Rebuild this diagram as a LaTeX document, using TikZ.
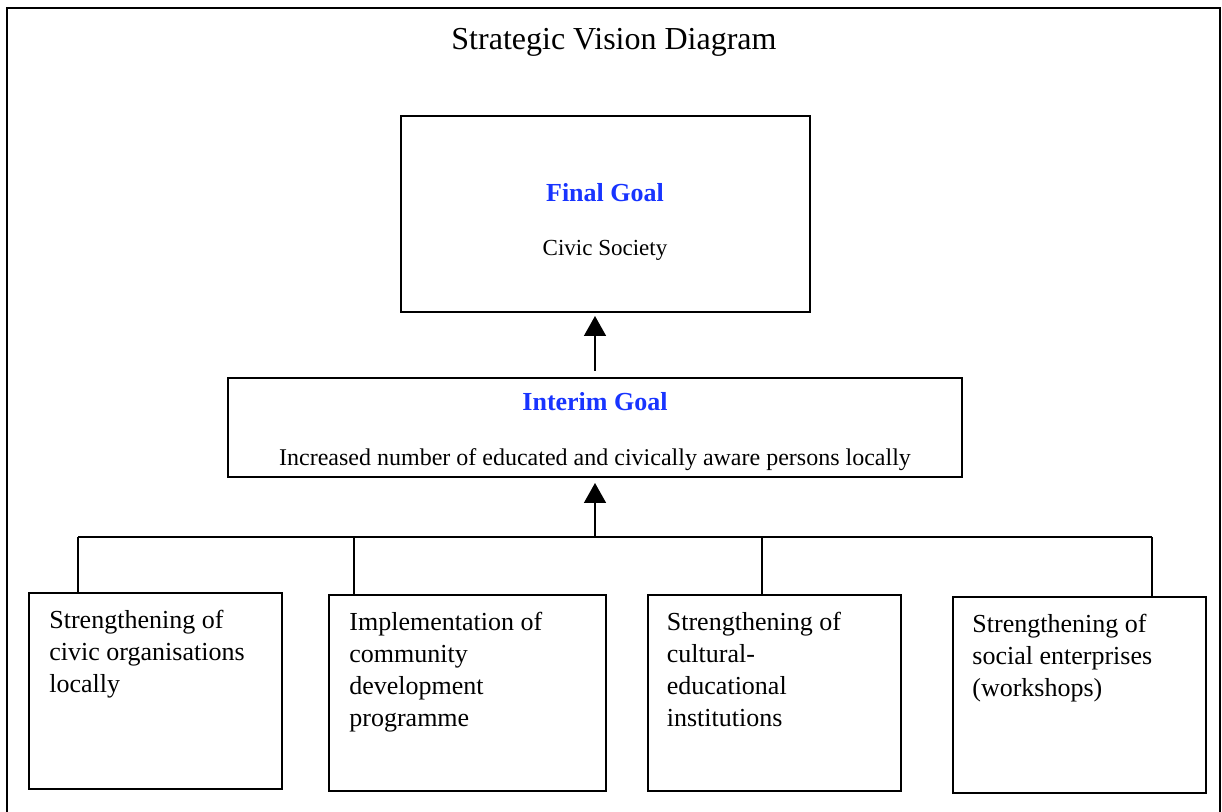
\documentclass[tikz,border=0pt]{standalone}
\usepackage{fontspec}
\setmainfont{Liberation Serif}
\usepackage{xcolor}
\usepackage{tikz}
\usetikzlibrary{calc}
\usetikzlibrary{arrows.meta}
\usetikzlibrary{positioning}
\definecolor{goalblue}{RGB}{24,52,255}
\tikzset{>={Triangle[width=11pt,length=10pt]}}
\tikzstyle{goalbox} = [rectangle, draw=black, line width=1pt, inner sep=0pt]
\tikzstyle{leaf} = [rectangle, draw=black, line width=1pt, minimum width=126.5pt, minimum height=98pt, inner sep=0pt]
\tikzstyle{leaftext} = [anchor=north west, align=left, inner sep=0pt, font=\fontsize{13}{16}\selectfont]
\tikzstyle{goalhead} = [anchor=base, inner sep=0pt, text=goalblue, font=\fontsize{13}{15}\selectfont\bfseries]
\tikzstyle{goaltext} = [anchor=base, inner sep=0pt, font=\fontsize{11.5}{14}\selectfont]
\tikzstyle{link} = [line width=0.8pt]

\begin{document}
\begin{tikzpicture}[x=0.5pt, y=-0.5pt]
\clip (0, 0) rectangle (1222, 812);
\draw [line width=1pt] (7, 8) rectangle (1220, 840);
\node [anchor=base, inner sep=0pt, font=\fontsize{16}{19}\selectfont] (title) at (614, 50) {Strategic Vision Diagram};

% goals
\node [goalbox, minimum width=204.5pt, minimum height=98pt] (final) at (605.5, 214) {};
\node [goalhead] (finalhead) at (605, 202) {Final Goal};
\node [goaltext] (finaltext) at (605, 256) {Civic Society};
\node [goalbox, minimum width=367pt, minimum height=49.5pt] (interim) at (595, 427.5) {};
\node [goalhead] (interimhead) at (595, 411) {Interim Goal};
\node [goaltext, font=\fontsize{12}{14}\selectfont] (interimtext) at (595, 466) {Increased number of educated and civically aware persons locally};

% activities
\node [leaf] (b1) at (155.5, 691) {};
\node [leaf, minimum width=138.5pt] (b2) at (467.5, 693) {};
\node [leaf] (b3) at (774, 693) {};
\node [leaf] (b4) at (1079.5, 695) {};
\node [leaftext] (t1) at ($(b1.north west)+(21, 18)$) {Strengthening of\\civic organisations\\locally};
\node [leaftext] (t2) at ($(b2.north west)+(21, 18)$) {Implementation of\\community\\development\\programme};
\node [leaftext] (t3) at ($(b3.north west)+(20, 18)$) {Strengthening of\\cultural-\\educational\\institutions};
\node [leaftext] (t4) at ($(b4.north west)+(20, 18)$) {Strengthening of\\social enterprises\\(workshops)};

% connectors
\coordinate (bus) at (595, 537);
\coordinate (d1) at (78, 537);
\coordinate (d2) at (354, 537);
\coordinate (d3) at (762, 537);
\coordinate (d4) at (1152, 537);
\draw [link] (d1) -- (d4);
\draw [link] (d1) -- (d1 |- b1.north);
\draw [link] (d2) -- (d2 |- b2.north);
\draw [link] (d3) -- (d3 |- b3.north);
\draw [link] (d4) -- (d4 |- b4.north);
\draw [link, ->, shorten >=2.5pt] (bus) -- (bus |- interim.south);
\draw [link, ->, shorten >=1.5pt] ($(interim.north)+(0, -6)$) -- (interim.north |- final.south);
\end{tikzpicture}
\end{document}
